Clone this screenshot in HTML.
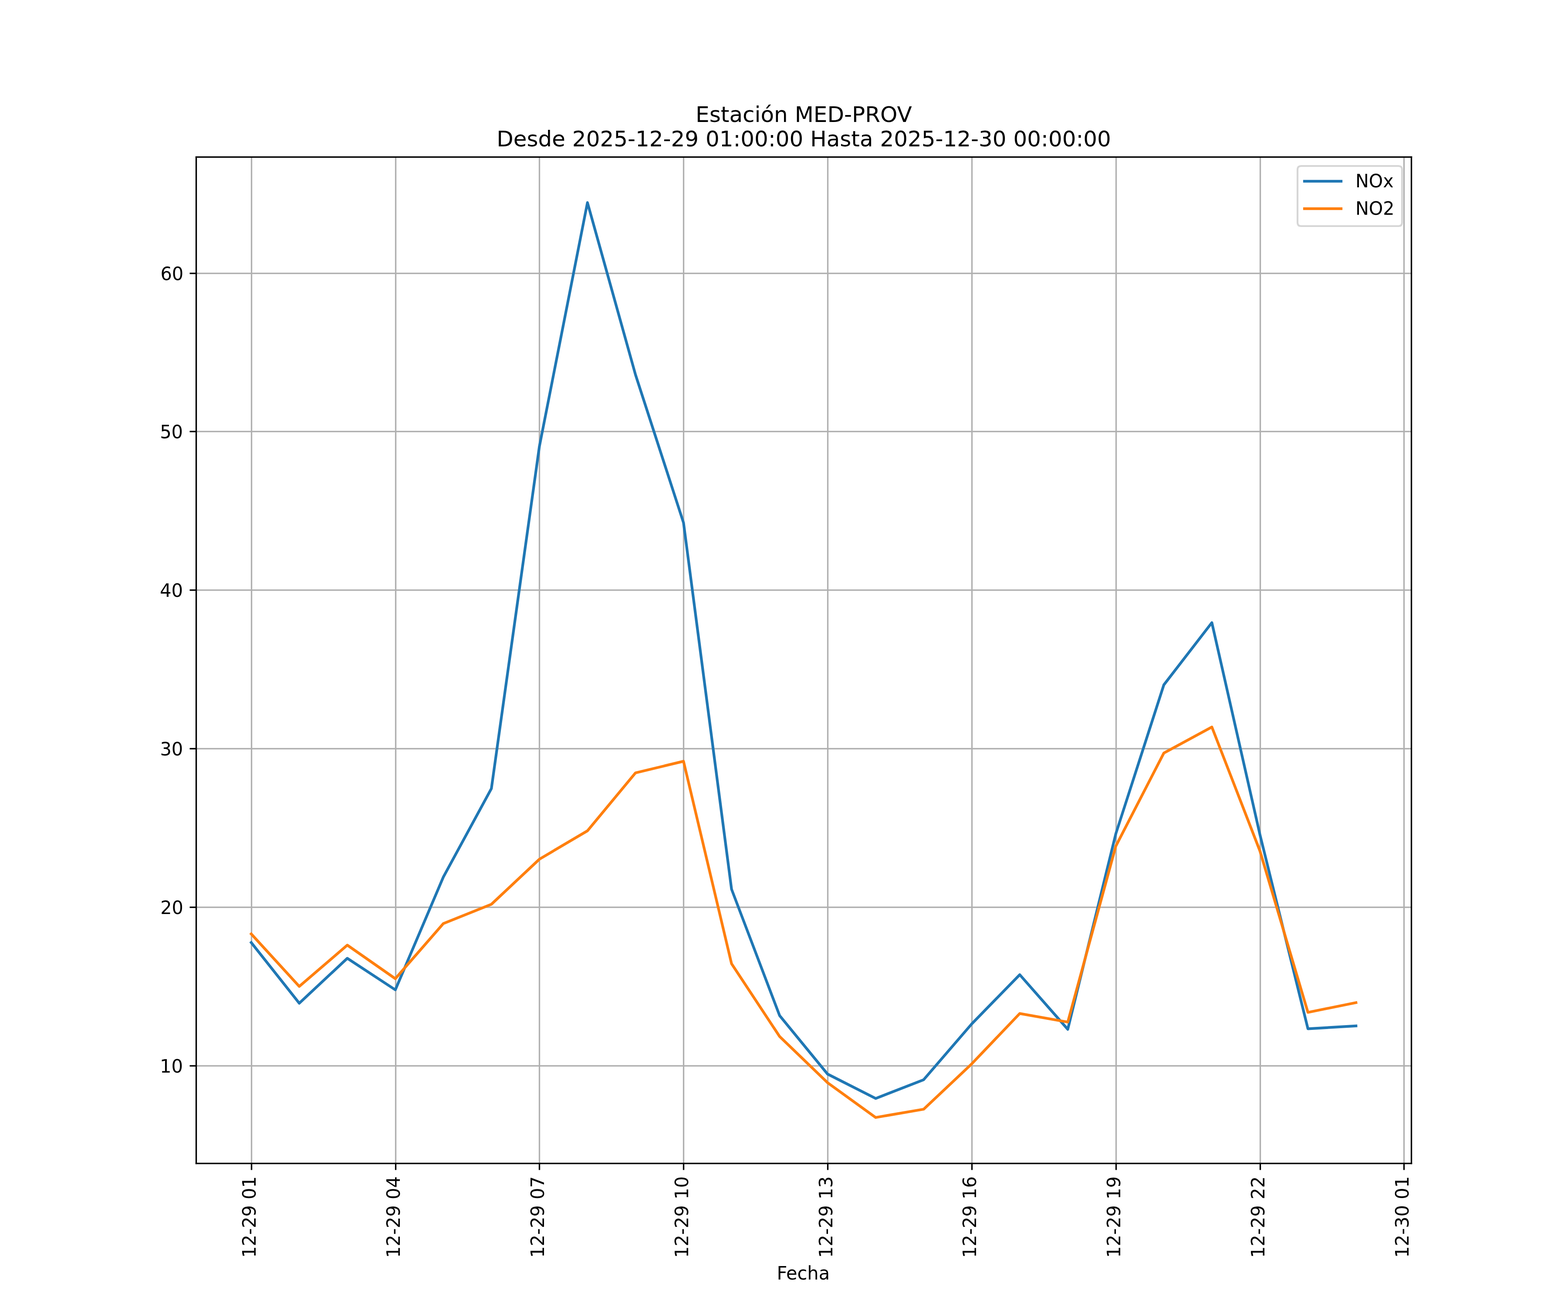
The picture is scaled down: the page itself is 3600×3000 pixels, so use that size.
<!DOCTYPE html>
<html lang="es">
<head>
<meta charset="utf-8">
<title>Estación MED-PROV</title>
<style>
html,body{margin:0;padding:0;background:#ffffff;}
body{width:3600px;height:3000px;}
svg{display:block;}
text{font-family:"DejaVu Sans","Liberation Sans",sans-serif;fill:#000000;}
.tick{font-size:41.6667px;}
.title{font-size:50px;}
.grid rect{fill:#b0b0b0;}
.ticks rect{fill:#000000;}
.series{fill:none;stroke-width:6.25;stroke-linejoin:round;stroke-linecap:square;}
</style>
</head>
<body>
<svg width="3600" height="3000" viewBox="0 0 3600 3000" role="img" aria-label="Estación MED-PROV: NOx y NO2 por hora">
<defs><clipPath id="axclip"><rect x="450" y="360" width="2790" height="2310"/></clipPath></defs>
<rect x="0" y="0" width="3600" height="3000" fill="#ffffff"/>
<!-- grid -->
<g class="grid" clip-path="url(#axclip)">
<rect x="575.833" y="360" width="3.333" height="2310"/>
<rect x="906.833" y="360" width="3.333" height="2310"/>
<rect x="1236.833" y="360" width="3.333" height="2310"/>
<rect x="1567.833" y="360" width="3.333" height="2310"/>
<rect x="1898.833" y="360" width="3.333" height="2310"/>
<rect x="2229.833" y="360" width="3.333" height="2310"/>
<rect x="2560.833" y="360" width="3.333" height="2310"/>
<rect x="2891.833" y="360" width="3.333" height="2310"/>
<rect x="3221.833" y="360" width="3.333" height="2310"/>
<rect x="450" y="625.833" width="2790" height="3.333"/>
<rect x="450" y="988.833" width="2790" height="3.333"/>
<rect x="450" y="1352.833" width="2790" height="3.333"/>
<rect x="450" y="1716.833" width="2790" height="3.333"/>
<rect x="450" y="2080.833" width="2790" height="3.333"/>
<rect x="450" y="2444.833" width="2790" height="3.333"/>
</g>
<!-- data series: NOx (blue), NO2 (orange) -->
<g clip-path="url(#axclip)">
<path class="series" stroke="#1f77b4" d="M576.818 2163.4 L687.095 2302.7 L797.372 2199.6 L907.648 2272 L1017.925 2013 L1128.202 1810 L1238.478 1024.3 L1348.755 465 L1459.032 860 L1569.308 1199.85 L1679.585 2041 L1789.862 2330.9 L1900.138 2465.4 L2010.415 2521.3 L2120.692 2478.3 L2230.968 2350.3 L2341.245 2237.2 L2451.522 2362.6 L2561.798 1913.9 L2672.075 1572 L2782.352 1429.2 L2892.628 1915.4 L3002.905 2361.3 L3113.182 2354.8"/>
<path class="series" stroke="#ff7f0e" d="M576.818 2143.7 L687.095 2264.05 L797.372 2169.4 L907.648 2246.4 L1017.925 2119.8 L1128.202 2075.6 L1238.478 1972.1 L1348.755 1907 L1459.032 1774 L1569.308 1747.4 L1679.585 2212 L1789.862 2379 L1900.138 2485.3 L2010.415 2565 L2120.692 2546 L2230.968 2441.9 L2341.245 2326.35 L2451.522 2346 L2561.798 1942.3 L2672.075 1728.5 L2782.352 1668.8 L2892.628 1953 L3002.905 2323.7 L3113.182 2301.4"/>
</g>
<!-- tick marks -->
<g class="ticks">
<rect x="575.833" y="2670.5" width="3.333" height="15"/>
<rect x="906.833" y="2670.5" width="3.333" height="15"/>
<rect x="1236.833" y="2670.5" width="3.333" height="15"/>
<rect x="1567.833" y="2670.5" width="3.333" height="15"/>
<rect x="1898.833" y="2670.5" width="3.333" height="15"/>
<rect x="2229.833" y="2670.5" width="3.333" height="15"/>
<rect x="2560.833" y="2670.5" width="3.333" height="15"/>
<rect x="2891.833" y="2670.5" width="3.333" height="15"/>
<rect x="3221.833" y="2670.5" width="3.333" height="15"/>
<rect x="435.5" y="625.833" width="15" height="3.333"/>
<rect x="435.5" y="988.833" width="15" height="3.333"/>
<rect x="435.5" y="1352.833" width="15" height="3.333"/>
<rect x="435.5" y="1716.833" width="15" height="3.333"/>
<rect x="435.5" y="2080.833" width="15" height="3.333"/>
<rect x="435.5" y="2444.833" width="15" height="3.333"/>
</g>
<!-- axes frame -->
<g fill="#000000">
<rect x="448.833" y="358.833" width="3.333" height="2313.333"/>
<rect x="3238.833" y="358.833" width="3.333" height="2313.333"/>
<rect x="448.833" y="2668.833" width="2793.333" height="3.333"/>
<rect x="448.833" y="358.833" width="2793.333" height="3.333"/>
</g>
<!-- y tick labels -->
<g class="tick" text-anchor="end">
<text transform="translate(421.33 642.83) scale(0.998 1.026)">60</text>
<text transform="translate(420.08 1005.83) scale(0.998 1.034)">50</text>
<text transform="translate(420.08 1369.83) scale(1.003 1.018)">40</text>
<text transform="translate(420.33 1733.83) scale(0.998 1.026)">30</text>
<text transform="translate(420.83 2097.83) scale(0.992 1.042)">20</text>
<text transform="translate(420.08 2461.83) scale(1.002 1.02)">10</text>
</g>
<!-- x tick labels -->
<g class="tick">
<text transform="translate(586.5 2887.075) rotate(-90) scale(0.999 1.042)">12-29 01</text>
<text transform="translate(917.5 2887.2) rotate(-90) scale(1 1.042)">12-29 04</text>
<text transform="translate(1248.5 2887.075) rotate(-90) scale(0.999 1.042)">12-29 07</text>
<text transform="translate(1579.5 2887.2) rotate(-90) scale(1 1.042)">12-29 10</text>
<text transform="translate(1910.5 2887.2) rotate(-90) scale(1 1.042)">12-29 13</text>
<text transform="translate(2240.5 2887.2) rotate(-90) scale(1 1.042)">12-29 16</text>
<text transform="translate(2571.5 2887.075) rotate(-90) scale(0.999 1.032)">12-29 19</text>
<text transform="translate(2902.5 2887.2) rotate(-90) scale(1 1.042)">12-29 22</text>
<text transform="translate(3233.5 2886.95) rotate(-90) scale(0.999 1.042)">12-30 01</text>
</g>
<text class="tick" text-anchor="middle" transform="translate(1844.25 2936.8) scale(0.996 1.042)">Fecha</text>
<!-- title -->
<g class="title" text-anchor="middle">
<text transform="translate(1845.375 280) scale(1.001 0.986)">Estación MED-PROV</text>
<text transform="translate(1845.575 336) scale(0.999 1.01)">Desde 2025-12-29 01:00:00 Hasta 2025-12-30 00:00:00</text>
</g>
<!-- legend -->
<g>
<path d="M2987.333 519 L3210.667 519 Q3219 519 3219 510.667 L3219 389.333 Q3219 381 3210.667 381 L2987.333 381 Q2979 381 2979 389.333 L2979 510.667 Q2979 519 2987.333 519 Z" fill="#ffffff" fill-opacity="0.8" stroke="#cccccc" stroke-opacity="0.8" stroke-width="4.1667" stroke-linejoin="miter"/>
<rect x="2991.875" y="412.875" width="90.25" height="6.25" fill="#1f77b4"/>
<rect x="2991.875" y="475.875" width="90.25" height="6.25" fill="#ff7f0e"/>
<text class="tick" transform="translate(3112 430.16) scale(0.988 1.038)">NOx</text>
<text class="tick" transform="translate(3112 493.32) scale(0.99 1.03)">NO2</text>
</g>
</svg>
</body>
</html>
